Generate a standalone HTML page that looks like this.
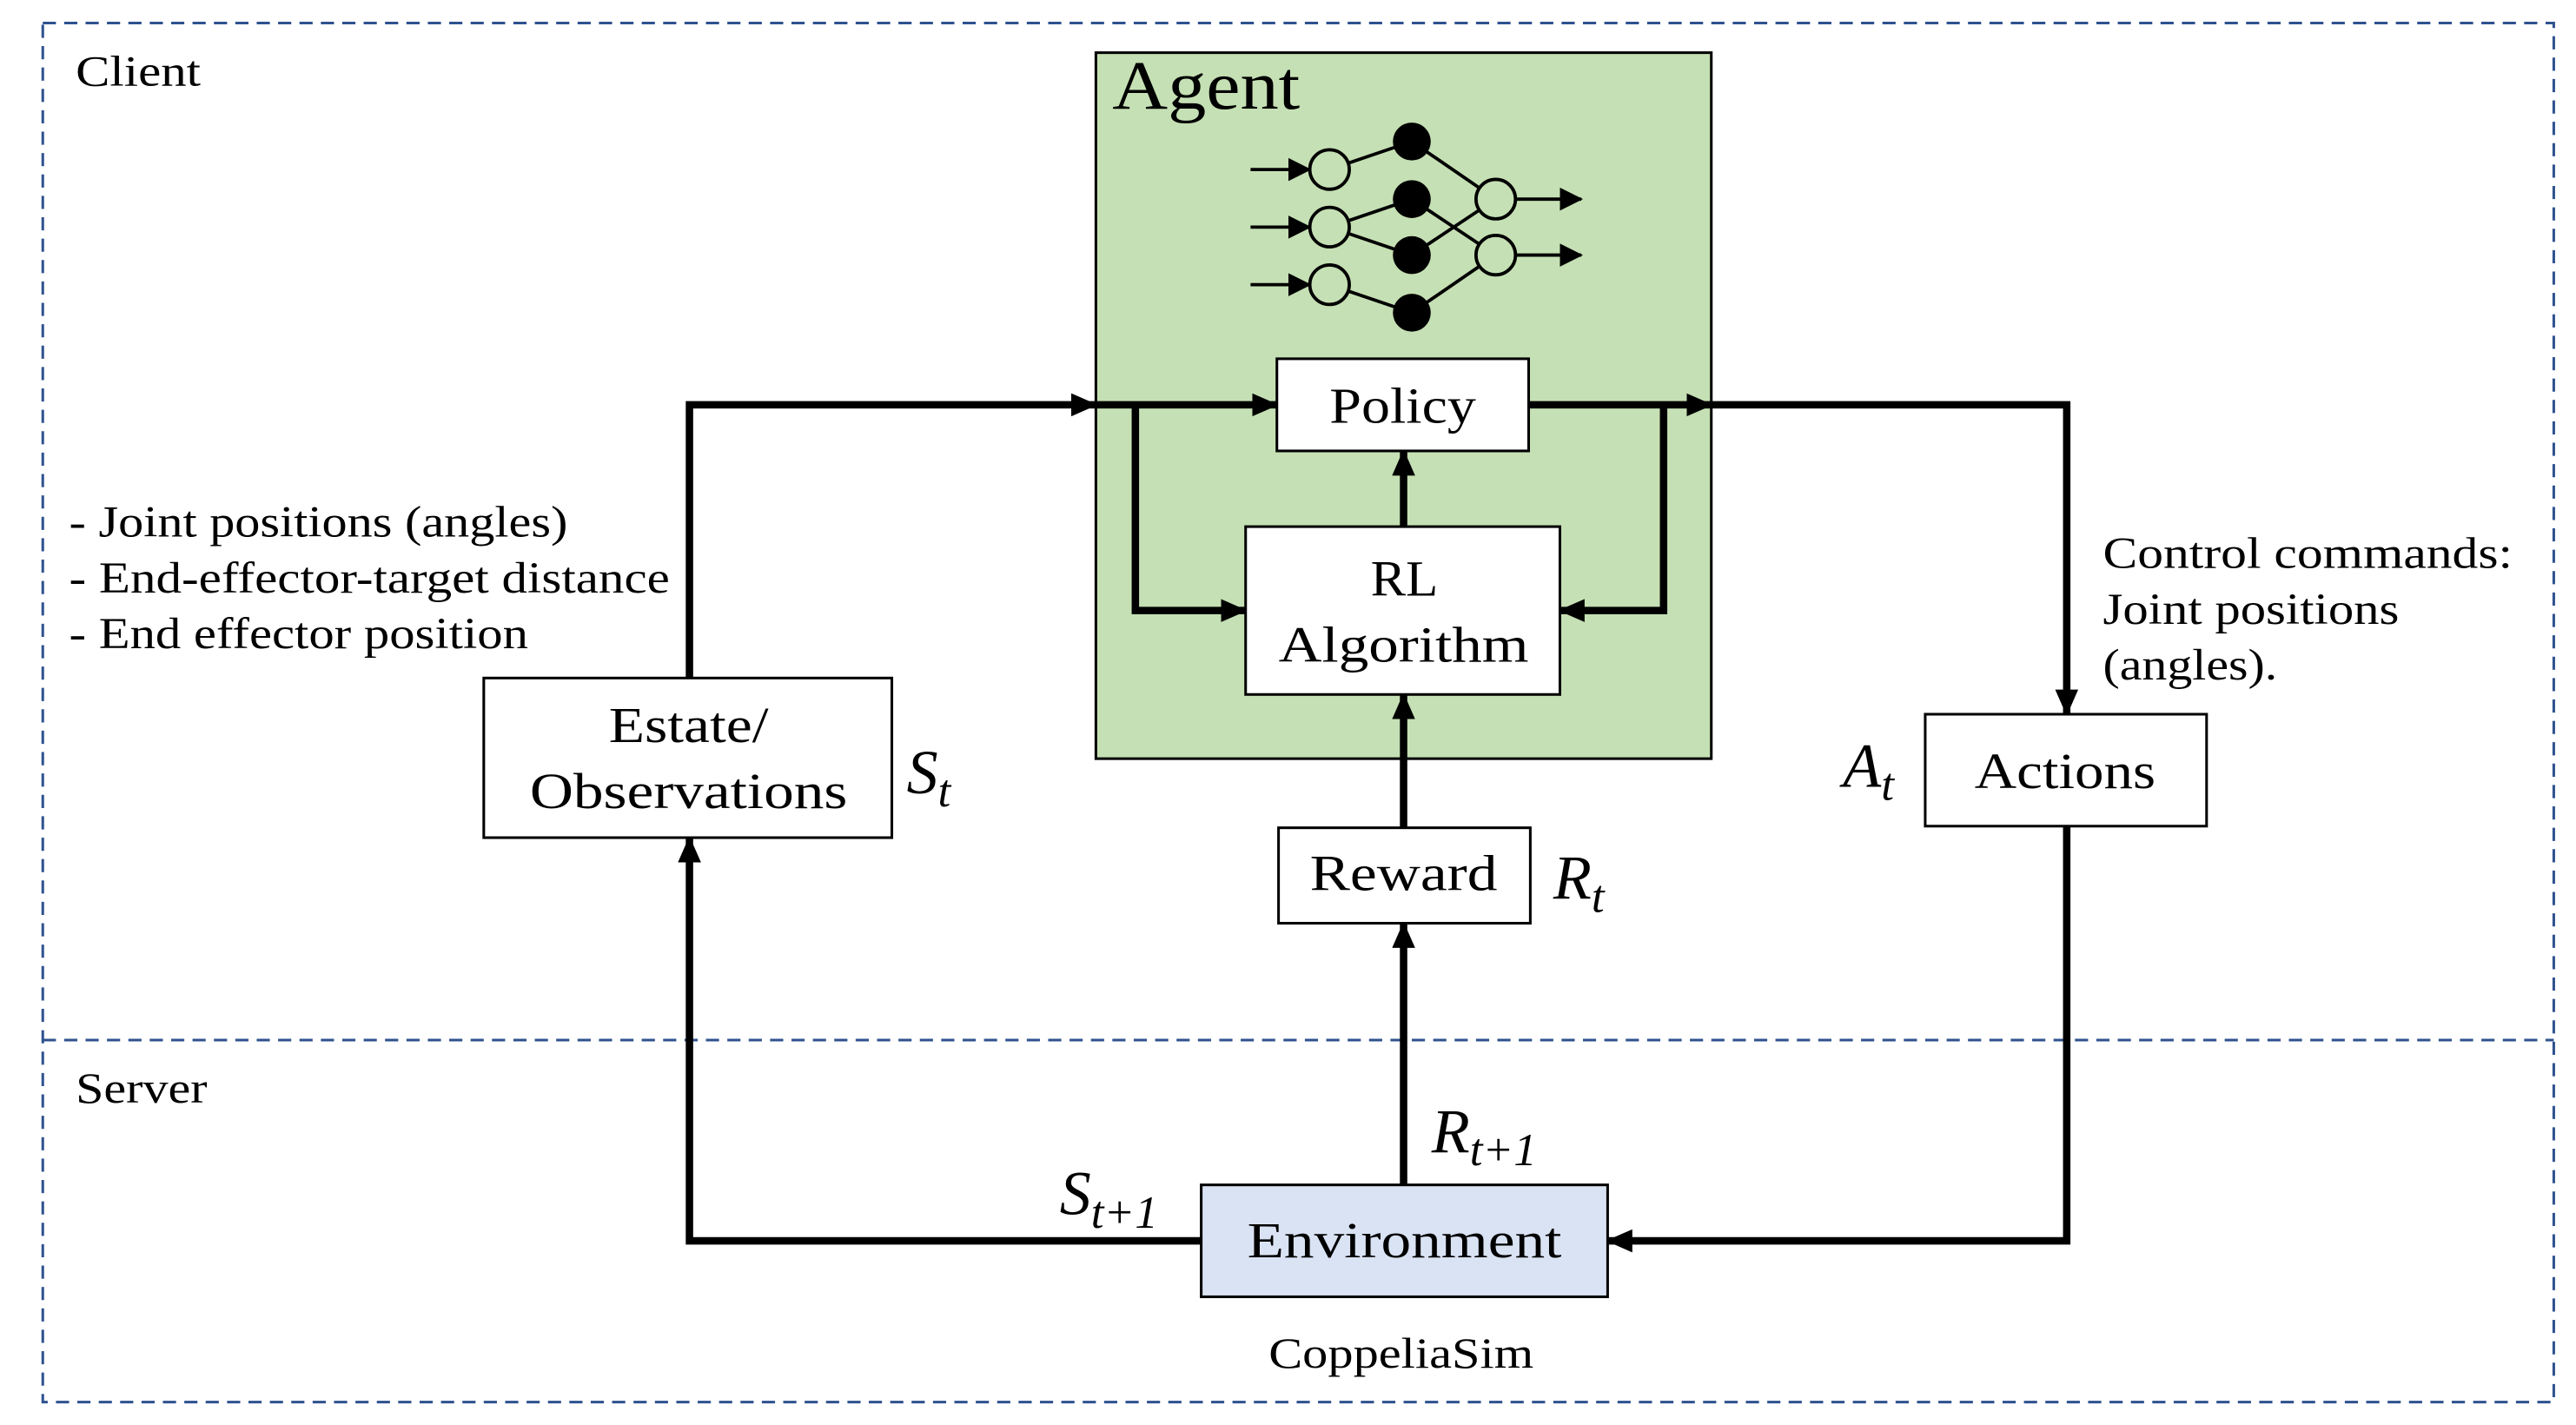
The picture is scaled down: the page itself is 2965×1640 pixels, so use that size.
<!DOCTYPE html>
<html><head><meta charset="utf-8"><style>html,body{margin:0;padding:0;background:#fff}svg{display:block}</style></head>
<body>
<svg width="2965" height="1640" viewBox="0 0 1565.5 865.9" xmlns="http://www.w3.org/2000/svg" font-family="'Liberation Serif', serif">
<defs>
<marker id="a" markerUnits="userSpaceOnUse" markerWidth="16" markerHeight="14" refX="15" refY="7" orient="auto"><path d="M0,0 L16,7 L0,14 Z" fill="#000"/></marker>
<marker id="s" markerUnits="userSpaceOnUse" markerWidth="14" markerHeight="14" refX="13" refY="7" orient="auto"><path d="M0,0 L14,7 L0,14 Z" fill="#000"/></marker>
</defs>
<rect x="26" y="14" width="1526" height="838" fill="none" stroke="#2f528f" stroke-width="1.6" stroke-dasharray="8,5"/>
<line x1="26" y1="632" x2="1552" y2="632" stroke="#2f528f" stroke-width="1.6" stroke-dasharray="8,5"/>
<g font-size="26" lengthAdjust="spacingAndGlyphs">
<text x="46" y="52" textLength="76" lengthAdjust="spacingAndGlyphs">Client</text>
<text x="46" y="670" textLength="80" lengthAdjust="spacingAndGlyphs">Server</text>
</g>
<rect x="666" y="32" width="374" height="429" fill="#c5e0b4" stroke="#000" stroke-width="1.6"/>
<text x="676" y="66" font-size="42" textLength="114" lengthAdjust="spacingAndGlyphs">Agent</text>
<!-- neural net -->
<g stroke="#000" stroke-width="2" fill="none">
<line x1="808" y1="103" x2="858" y2="86"/><line x1="808" y1="138" x2="858" y2="121"/><line x1="808" y1="138" x2="858" y2="155"/><line x1="808" y1="173" x2="858" y2="190"/>
<line x1="858" y1="86" x2="909" y2="121"/><line x1="858" y1="121" x2="909" y2="155"/><line x1="858" y1="155" x2="909" y2="121"/><line x1="858" y1="190" x2="909" y2="155"/>
<line x1="760" y1="103" x2="796" y2="103" marker-end="url(#s)"/><line x1="760" y1="138" x2="796" y2="138" marker-end="url(#s)"/><line x1="760" y1="173" x2="796" y2="173" marker-end="url(#s)"/>
<line x1="921" y1="121" x2="961" y2="121" marker-end="url(#s)"/><line x1="921" y1="155" x2="961" y2="155" marker-end="url(#s)"/>
</g>
<g stroke="#000" stroke-width="2" fill="#c5e0b4"><circle cx="808" cy="103" r="12"/><circle cx="808" cy="138" r="12"/><circle cx="808" cy="173" r="12"/><circle cx="909" cy="121" r="12"/><circle cx="909" cy="155" r="12"/></g>
<g fill="#000"><circle cx="858" cy="86" r="11.5"/><circle cx="858" cy="121" r="11.5"/><circle cx="858" cy="155" r="11.5"/><circle cx="858" cy="190" r="11.5"/></g>
<!-- connectors -->
<g stroke="#000" stroke-width="4.5" fill="none" stroke-linejoin="miter">
<polyline points="419,412 419,246 666,246" marker-end="url(#a)"/>
<line x1="666" y1="246" x2="776" y2="246" marker-end="url(#a)"/>
<polyline points="690,246 690,371 757,371" marker-end="url(#a)"/>
<line x1="929" y1="246" x2="1040" y2="246" marker-end="url(#a)"/>
<polyline points="1011,246 1011,371 948,371" marker-end="url(#a)"/>
<polyline points="1040,246 1256,246 1256,434" marker-end="url(#a)"/>
<line x1="853" y1="320" x2="853" y2="274" marker-end="url(#a)"/>
<line x1="853" y1="503" x2="853" y2="422" marker-end="url(#a)"/>
<line x1="853" y1="720" x2="853" y2="561" marker-end="url(#a)"/>
<polyline points="1256,502 1256,754 977,754" marker-end="url(#a)"/>
<polyline points="730,754 419,754 419,509" marker-end="url(#a)"/>
</g>
<!-- boxes -->
<g stroke="#000" stroke-width="1.6" fill="#fff">
<rect x="776" y="218" width="153" height="56"/>
<rect x="757" y="320" width="191" height="102"/>
<rect x="777" y="503" width="153" height="58"/>
<rect x="294" y="412" width="248" height="97"/>
<rect x="1170" y="434" width="171" height="68"/>
<rect x="730" y="720" width="247" height="68" fill="#dae3f3"/>
</g>
<g font-size="31">
<text x="808" y="257" textLength="89" lengthAdjust="spacingAndGlyphs">Policy</text>
<text x="833" y="362" textLength="41" lengthAdjust="spacingAndGlyphs">RL</text>
<text x="777" y="402" textLength="152" lengthAdjust="spacingAndGlyphs">Algorithm</text>
<text x="796" y="541" textLength="114" lengthAdjust="spacingAndGlyphs">Reward</text>
<text x="370" y="451" textLength="97" lengthAdjust="spacingAndGlyphs">Estate/</text>
<text x="322" y="491" textLength="193" lengthAdjust="spacingAndGlyphs">Observations</text>
<text x="1200" y="479" textLength="110" lengthAdjust="spacingAndGlyphs">Actions</text>
<text x="758" y="764" textLength="191" lengthAdjust="spacingAndGlyphs">Environment</text>
<text x="771" y="831" font-size="26" textLength="161" lengthAdjust="spacingAndGlyphs">CoppeliaSim</text>
</g>
<g font-size="27">
<text x="42" y="326" textLength="303" lengthAdjust="spacingAndGlyphs">- Joint positions (angles)</text>
<text x="42" y="360" textLength="365" lengthAdjust="spacingAndGlyphs">- End-effector-target distance</text>
<text x="42" y="394" textLength="279" lengthAdjust="spacingAndGlyphs">- End effector position</text>
<text x="1278" y="345" textLength="249" lengthAdjust="spacingAndGlyphs">Control commands:</text>
<text x="1278" y="379" textLength="180" lengthAdjust="spacingAndGlyphs">Joint positions</text>
<text x="1278" y="413" textLength="106" lengthAdjust="spacingAndGlyphs">(angles).</text>
</g>
<g font-family="'Liberation Serif', serif" font-style="italic" font-size="38">
<text x="551" y="482">S<tspan font-size="28" dy="8">t</tspan></text>
<text x="1120" y="478">A<tspan font-size="28" dy="8">t</tspan></text>
<text x="944" y="546">R<tspan font-size="28" dy="8">t</tspan></text>
<text x="870" y="700">R<tspan font-size="28" dy="8">t+1</tspan></text>
<text x="644" y="738">S<tspan font-size="28" dy="8">t+1</tspan></text>
</g>
</svg>
</body></html>
